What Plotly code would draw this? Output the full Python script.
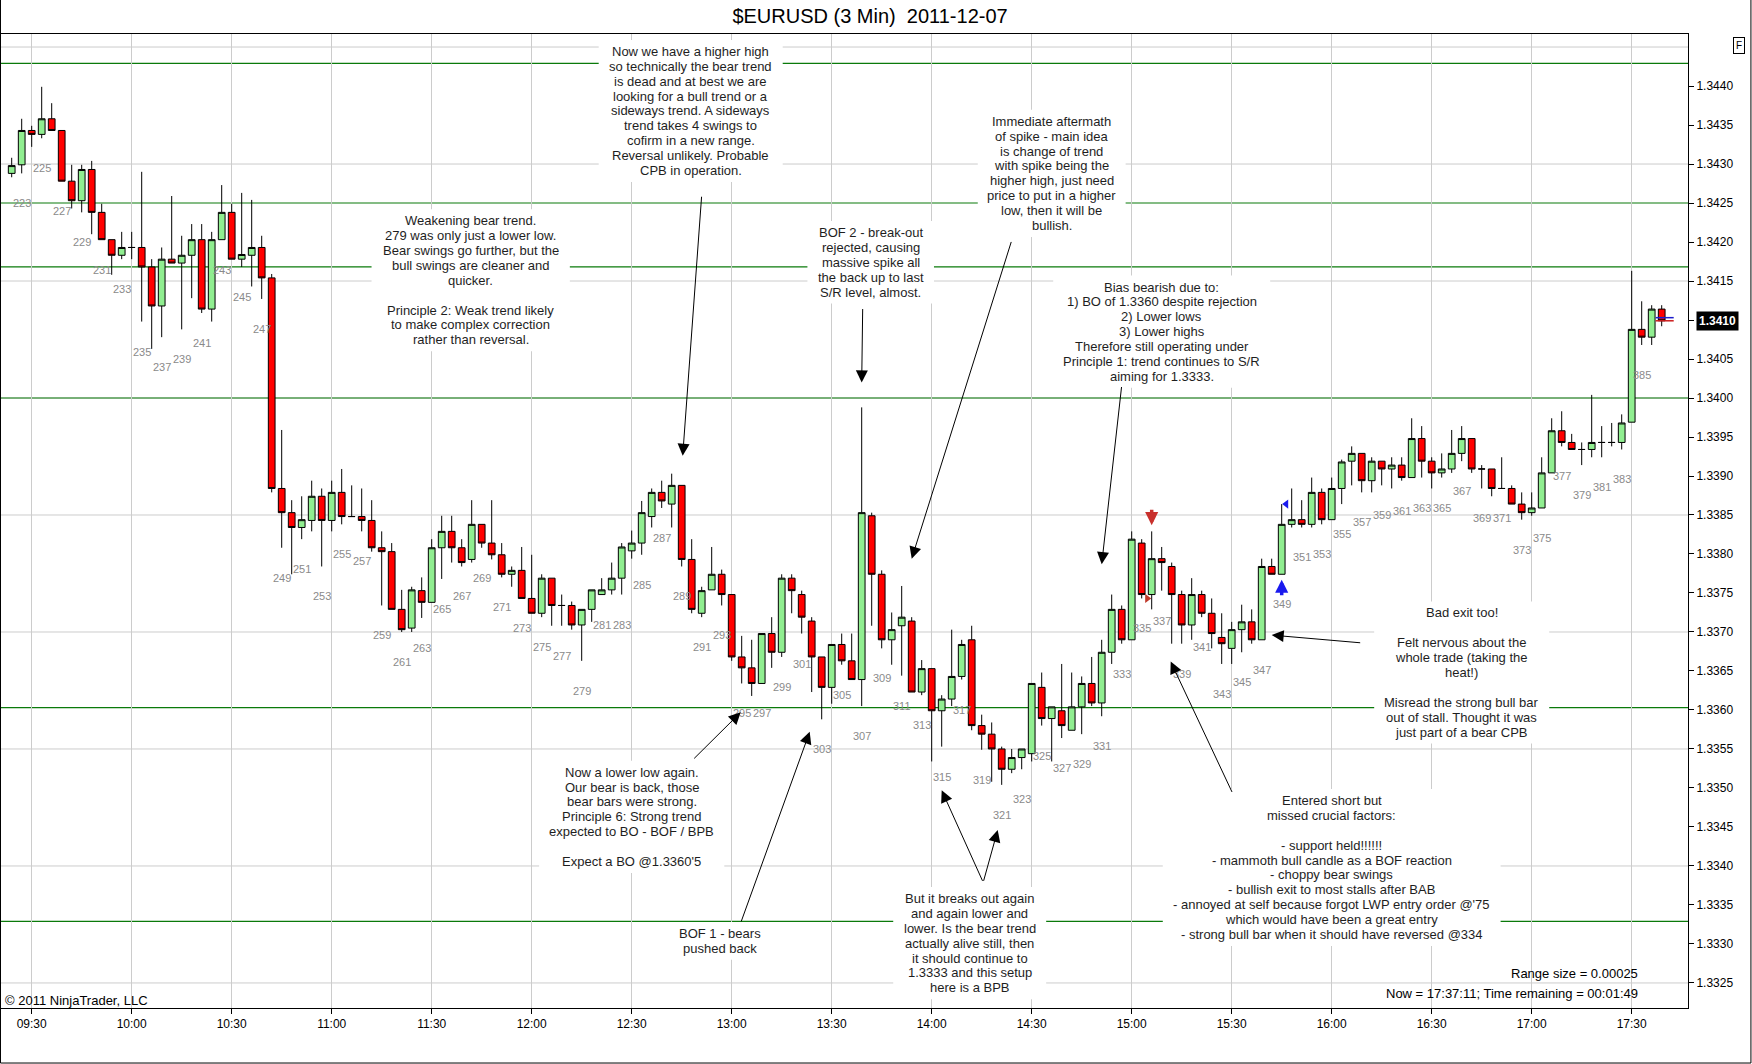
import plotly.graph_objects as go

# 3 minute EURUSD bars, 2011-12-07, bar numbers 222..387
first_bar = 222
opens = [1.34288, 1.34299, 1.34343, 1.34338, 1.34358, 1.34343, 1.34278, 1.34253, 1.34293, 1.34238,
         1.34203, 1.34183, 1.34193, 1.34193, 1.34168, 1.34118, 1.34178, 1.34173, 1.34183, 1.34203,
         1.34114, 1.34203, 1.34238, 1.34178, 1.34183, 1.34193, 1.34154, 1.33884, 1.33853, 1.33834,
         1.33843, 1.33874, 1.33843, 1.33879, 1.33848, 1.33848, 1.33843, 1.33808, 1.33803, 1.33729,
         1.33705, 1.33753, 1.33738, 1.33808, 1.33829, 1.33808, 1.33793, 1.33838, 1.33814, 1.33799,
         1.33774, 1.33779, 1.33743, 1.33724, 1.33769, 1.33734, 1.33734, 1.33709, 1.33729, 1.33748,
         1.33754, 1.33769, 1.33804, 1.33814, 1.33848, 1.33879, 1.33864, 1.33888, 1.33793, 1.33724,
         1.33754, 1.33774, 1.33748, 1.33668, 1.33654, 1.33634, 1.33698, 1.33674, 1.33769, 1.33748,
         1.33714, 1.33668, 1.33629, 1.33684, 1.33663, 1.33639, 1.33849, 1.33774, 1.33690, 1.33708,
         1.33714, 1.33623, 1.33653, 1.33599, 1.33614, 1.33643, 1.33690, 1.33580, 1.33569, 1.33550,
         1.33524, 1.33539, 1.33544, 1.33629, 1.33589, 1.33599, 1.33574, 1.33604, 1.33634, 1.33609,
         1.33674, 1.33729, 1.33690, 1.33814, 1.33748, 1.33794, 1.33784, 1.33748, 1.33709, 1.33748,
         1.33724, 1.33693, 1.33679, 1.33703, 1.33713, 1.33690, 1.33784, 1.33774, 1.33838, 1.33844,
         1.33838, 1.33879, 1.33844, 1.33884, 1.33919, 1.33929, 1.33894, 1.33919, 1.33909, 1.33914,
         1.33898, 1.33948, 1.33919, 1.33904, 1.33909, 1.33929, 1.33948, 1.33909, 1.33909, 1.33884,
         1.33884, 1.33864, 1.33853, 1.33859, 1.33904, 1.33958, 1.33943, 1.33934, 1.33934, 1.33943,
         1.33943, 1.33943, 1.33969, 1.34088, 1.34078, 1.34114]
highs = [1.34308, 1.34358, 1.34349, 1.34399, 1.34378, 1.34343, 1.34299, 1.34299, 1.34304, 1.34249,
         1.34203, 1.34213, 1.34213, 1.34290, 1.34178, 1.34193, 1.34259, 1.34208, 1.34223, 1.34223,
         1.34213, 1.34273, 1.34249, 1.34263, 1.34254, 1.34208, 1.34159, 1.33959, 1.33869, 1.33874,
         1.33894, 1.33884, 1.33894, 1.33909, 1.33888, 1.33884, 1.33869, 1.33829, 1.33814, 1.33754,
         1.33758, 1.33770, 1.33819, 1.33849, 1.33849, 1.33819, 1.33869, 1.33838, 1.33869, 1.33814,
         1.33784, 1.33809, 1.33799, 1.33774, 1.33769, 1.33748, 1.33739, 1.33729, 1.33754, 1.33769,
         1.33789, 1.33814, 1.33830, 1.33868, 1.33884, 1.33894, 1.33903, 1.33888, 1.33819, 1.33758,
         1.33809, 1.33780, 1.33748, 1.33695, 1.33690, 1.33698, 1.33719, 1.33774, 1.33774, 1.33753,
         1.33719, 1.33668, 1.33684, 1.33698, 1.33698, 1.33988, 1.33853, 1.33779, 1.33725, 1.33759,
         1.33719, 1.33664, 1.33653, 1.33619, 1.33703, 1.33690, 1.33708, 1.33594, 1.33584, 1.33553,
         1.33550, 1.33550, 1.33634, 1.33648, 1.33604, 1.33659, 1.33648, 1.33643, 1.33668, 1.33690,
         1.33748, 1.33734, 1.33829, 1.33819, 1.33829, 1.33809, 1.33789, 1.33753, 1.33769, 1.33753,
         1.33743, 1.33724, 1.33713, 1.33735, 1.33729, 1.33794, 1.33794, 1.33864, 1.33884, 1.33869,
         1.33898, 1.33884, 1.33898, 1.33921, 1.33938, 1.33929, 1.33924, 1.33919, 1.33924, 1.33924,
         1.33974, 1.33964, 1.33924, 1.33929, 1.33959, 1.33964, 1.33948, 1.33914, 1.33909, 1.33924,
         1.33888, 1.33879, 1.33879, 1.33924, 1.33974, 1.33983, 1.33954, 1.33943, 1.34004, 1.33964,
         1.33968, 1.33979, 1.34163, 1.34124, 1.34119, 1.34119]
lows = [1.34283, 1.34288, 1.34322, 1.34333, 1.34343, 1.34278, 1.34243, 1.34238, 1.34210, 1.34203,
        1.34158, 1.34178, 1.34178, 1.34098, 1.34063, 1.34078, 1.34173, 1.34088, 1.34128, 1.34109,
        1.34098, 1.34203, 1.34178, 1.34168, 1.34143, 1.34127, 1.33879, 1.33808, 1.33774, 1.33819,
        1.33829, 1.33784, 1.33829, 1.33838, 1.33848, 1.33829, 1.33803, 1.33734, 1.33729, 1.33700,
        1.33700, 1.33718, 1.33738, 1.33768, 1.33789, 1.33784, 1.33789, 1.33808, 1.33793, 1.33770,
        1.33758, 1.33743, 1.33724, 1.33719, 1.33708, 1.33708, 1.33703, 1.33663, 1.33713, 1.33748,
        1.33748, 1.33748, 1.33794, 1.33799, 1.33834, 1.33859, 1.33834, 1.33784, 1.33724, 1.33719,
        1.33754, 1.33734, 1.33663, 1.33634, 1.33618, 1.33634, 1.33654, 1.33668, 1.33724, 1.33698,
        1.33623, 1.33588, 1.33608, 1.33658, 1.33639, 1.33605, 1.33708, 1.33679, 1.33658, 1.33644,
        1.33623, 1.33619, 1.33534, 1.33553, 1.33605, 1.33639, 1.33574, 1.33549, 1.33508, 1.33504,
        1.33519, 1.33524, 1.33534, 1.33580, 1.33534, 1.33564, 1.33574, 1.33569, 1.33605, 1.33592,
        1.33659, 1.33685, 1.33690, 1.33743, 1.33729, 1.33753, 1.33685, 1.33685, 1.33690, 1.33719,
        1.33679, 1.33659, 1.33659, 1.33674, 1.33685, 1.33690, 1.33774, 1.33774, 1.33834, 1.33834,
        1.33834, 1.33838, 1.33844, 1.33864, 1.33888, 1.33879, 1.33879, 1.33888, 1.33884, 1.33894,
        1.33898, 1.33898, 1.33884, 1.33898, 1.33904, 1.33919, 1.33904, 1.33884, 1.33874, 1.33884,
        1.33864, 1.33844, 1.33849, 1.33859, 1.33904, 1.33938, 1.33934, 1.33914, 1.33924, 1.33924,
        1.33938, 1.33934, 1.33969, 1.34068, 1.34068, 1.34092]
closes = [1.34298, 1.34343, 1.34338, 1.34358, 1.34343, 1.34278, 1.34253, 1.34293, 1.34238, 1.34203,
          1.34183, 1.34193, 1.34193, 1.34168, 1.34118, 1.34178, 1.34173, 1.34183, 1.34203, 1.34114,
          1.34203, 1.34238, 1.34178, 1.34184, 1.34193, 1.34154, 1.33884, 1.33853, 1.33834, 1.33844,
          1.33874, 1.33843, 1.33879, 1.33848, 1.33848, 1.33843, 1.33808, 1.33803, 1.33729, 1.33703,
          1.33754, 1.33738, 1.33808, 1.33829, 1.33808, 1.33789, 1.33838, 1.33814, 1.33799, 1.33774,
          1.33779, 1.33743, 1.33724, 1.33769, 1.33734, 1.33734, 1.33709, 1.33729, 1.33754, 1.33754,
          1.33769, 1.33809, 1.33814, 1.33853, 1.33879, 1.33868, 1.33888, 1.33793, 1.33729, 1.33753,
          1.33774, 1.33748, 1.33668, 1.33654, 1.33634, 1.33698, 1.33674, 1.33769, 1.33753, 1.33719,
          1.33668, 1.33629, 1.33684, 1.33663, 1.33639, 1.33853, 1.33774, 1.33690, 1.33703, 1.33719,
          1.33623, 1.33653, 1.33599, 1.33614, 1.33643, 1.33684, 1.33580, 1.33569, 1.33550, 1.33524,
          1.33539, 1.33550, 1.33634, 1.33589, 1.33604, 1.33580, 1.33604, 1.33634, 1.33609, 1.33674,
          1.33729, 1.33690, 1.33819, 1.33748, 1.33794, 1.33789, 1.33748, 1.33709, 1.33748, 1.33724,
          1.33698, 1.33685, 1.33703, 1.33713, 1.33690, 1.33784, 1.33774, 1.33838, 1.33844, 1.33838,
          1.33879, 1.33844, 1.33884, 1.33918, 1.33929, 1.33894, 1.33919, 1.33909, 1.33914, 1.33898,
          1.33948, 1.33919, 1.33904, 1.33909, 1.33929, 1.33948, 1.33909, 1.33909, 1.33884, 1.33884,
          1.33864, 1.33853, 1.33859, 1.33904, 1.33958, 1.33943, 1.33934, 1.33934, 1.33943, 1.33943,
          1.33943, 1.33968, 1.34088, 1.34078, 1.34114, 1.34099]
bars = list(range(first_bar, first_bar + len(closes)))

time_bars = [224, 234, 244, 254, 264, 274, 284, 294, 304, 314, 324, 334, 344, 354, 364, 374, 384]
time_labels = ['09:30', '10:00', '10:30', '11:00', '11:30', '12:00', '12:30', '13:00', '13:30',
               '14:00', '14:30', '15:00', '15:30', '16:00', '16:30', '17:00', '17:30']
price_ticks = [1.3325, 1.3330, 1.3335, 1.3340, 1.3345, 1.3350, 1.3355, 1.3360, 1.3365, 1.3370,
               1.3375, 1.3380, 1.3385, 1.3390, 1.3395, 1.3400, 1.3405, 1.3410, 1.3415, 1.3420,
               1.3425, 1.3430, 1.3435, 1.3440]

# hand drawn S/R lines and the chart's own horizontal grid
sr_levels = [1.34429, 1.34250, 1.34168, 1.34000, 1.33603, 1.33329]
grid_levels = [1.3445, 1.3430, 1.3415, 1.3400, 1.3385, 1.3370, 1.3355, 1.3340, 1.3325]

# trade markers
entry_bar, entry_fill, entry_signal = 336, 1.33743, 1.33837
exit_bar, exit_fill, exit_signal = 349, 1.33864, 1.33767
bid_price, ask_price = 1.34099, 1.34103

FONT = 'Arial, Liberation Sans, sans-serif'
NOTE_SIZE = 13
LINE_PX = 14.9

notes = [
    ('Now we have a higher high<br>so technically the bear trend<br>is dead and at best we are<br>'
     'looking for a bull trend or a<br>sideways trend. A sideways<br>trend takes 4 swings to<br>'
     'cofirm in a new range.<br>Reversal unlikely. Probable<br>CPB in operation.', 289.9, 1.34368),
    ('Weakening bear trend.<br>279 was only just a lower low.<br>Bear swings go further, but the<br>'
     'bull swings are cleaner and<br>quicker.<br><br>Principle 2: Weak trend likely<br>'
     'to make complex correction<br>rather than reversal.', 267.9, 1.34151),
    ('BOF 2 - break-out<br>rejected, causing<br>massive spike all<br>the back up to last<br>'
     'S/R level, almost.', 307.9, 1.34174),
    ('Immediate aftermath<br>of spike - main idea<br>is change of trend<br>with spike being the<br>'
     'higher high, just need<br>price to put in a higher<br>low, then it will be<br>bullish.', 326.0, 1.34288),
    ('Bias bearish due to:<br>1) BO of 1.3360 despite rejection<br>2) Lower lows<br>3) Lower highs<br>'
     'Therefore still operating under<br>Principle 1: trend continues to S/R<br>aiming for 1.3333.',
     337.0, 1.34085),
    ('Bad exit too!<br><br>Felt nervous about the<br>whole trade (taking the<br>heat!)<br><br>'
     'Misread the strong bull bar<br>out of stall. Thought it was<br>just part of a bear CPB', 367.0, 1.33648),
    ('Entered short but<br>missed crucial factors:<br><br>- support held!!!!!!<br>'
     '- mammoth bull candle as a BOF reaction<br>- choppy bear swings<br>'
     '- bullish exit to most stalls after BAB<br>- annoyed at self because forgot LWP entry order @\'75<br>'
     'which would have been a great entry<br>- strong bull bar when it should have reversed @334',
     354.0, 1.33398),
    ('Now a lower low again.<br>Our bear is back, those<br>bear bars were strong.<br>'
     'Principle 6: Strong trend<br>expected to BO - BOF / BPB<br><br>Expect a BO @1.3360\'5', 284.0, 1.33463),
    ('BOF 1 - bears<br>pushed back', 292.8, 1.33304),
    ('But it breaks out again<br>and again lower and<br>lower. Is the bear trend<br>actually alive still, then<br>'
     'it should continue to<br>1.3333 and this setup<br>here is a BPB', 317.8, 1.33301),
]

# (tail bar, tail price, head bar, head price)
pointers = [
    (291.0, 1.34260, 289.1, 1.33926),
    (307.1, 1.34116, 307.0, 1.34020),
    (322.0, 1.34202, 312.0, 1.33794),
    (333.0, 1.34016, 331.0, 1.33787),
    (357.0, 1.33686, 348.0, 1.33696),
    (344.1, 1.33493, 337.9, 1.33662),
    (290.1, 1.33536, 294.9, 1.33597),
    (294.9, 1.33327, 301.8, 1.33572),
    (319.15, 1.33379, 315.0, 1.33497),
    (319.15, 1.33379, 320.6, 1.33446),
]

x_range = [220.93, 389.63]
y_range = [1.332179, 1.344667]


def text_px(s, size):
    """Rough Arial width of a line, only used to size the white note boxes."""
    w = 0.0
    for ch in s:
        if ch in "ijl.,:;!|'":
            w += 0.24
        elif ch in "frt()-/ I":
            w += 0.31
        elif ch in "mwMW@":
            w += 0.86
        elif ch.isupper():
            w += 0.68
        elif ch.isdigit():
            w += 0.556
        else:
            w += 0.54
    return w * size


fig = go.Figure()

fig.add_trace(go.Candlestick(
    x=bars, open=opens, high=highs, low=lows, close=closes,
    increasing=dict(fillcolor='#90EE90', line=dict(color='black', width=1)),
    decreasing=dict(fillcolor='#FF0000', line=dict(color='black', width=1)),
    whiskerwidth=0, hoverinfo='skip'))

# bid / ask ticks on the live bar
fig.add_trace(go.Scatter(x=[bars[-1] - 0.6, bars[-1] + 1.2], y=[ask_price, ask_price], mode='lines',
                         line=dict(color='#1c1ccc', width=1.5), hoverinfo='skip'))
fig.add_trace(go.Scatter(x=[bars[-1] - 0.6, bars[-1] + 1.2], y=[bid_price, bid_price], mode='lines',
                         line=dict(color='#cc1c1c', width=1.5), hoverinfo='skip'))

# execution triangles
fig.add_trace(go.Scatter(x=[entry_bar - 0.45], y=[entry_fill], mode='markers',
                         marker=dict(symbol='triangle-right', size=8, color='#c0392b'), hoverinfo='skip'))
fig.add_trace(go.Scatter(x=[exit_bar + 0.45], y=[exit_fill], mode='markers',
                         marker=dict(symbol='triangle-left', size=8, color='#1a1aee'), hoverinfo='skip'))

# current price marker on the axis
fig.add_trace(go.Scatter(x=[x_range[1] + 0.55], y=[closes[-1]], mode='markers', cliponaxis=False,
                         marker=dict(symbol='triangle-left', size=14, color='black'), hoverinfo='skip'))

shapes = []
for lvl in grid_levels:
    shapes.append(dict(type='line', xref='paper', x0=0, x1=1, yref='y', y0=lvl, y1=lvl,
                       line=dict(color='#cccccc', width=1), layer='below'))
for lvl in sr_levels:
    shapes.append(dict(type='line', xref='paper', x0=0, x1=1, yref='y', y0=lvl, y1=lvl,
                       line=dict(color='#0a7a0a', width=1.2), layer='below'))
# outer frame of the window (left, bottom, right)
shapes.append(dict(type='path', xref='paper', yref='paper',
                   path='M -0.0003,1.04 L -0.0003,-0.0565 L 1.0373,-0.0565 L 1.0373,1.04',
                   line=dict(color='black', width=1)))

annotations = []
# bar numbers under every second bar (the live bar is not numbered)
for b, lo in zip(bars[:-1], lows[:-1]):
    if b % 2 == 1:
        annotations.append(dict(x=b, y=lo, text=str(b), showarrow=False, yshift=-30,
                                font=dict(family=FONT, size=11, color='#8a8a8a')))

# notes: white box behind, one annotation per line to keep the tight line pitch
for tx, bx, py in notes:
    lines = tx.split('<br>')
    n = len(lines)
    box_w = max(text_px(s, NOTE_SIZE) for s in lines) + 18
    box_h = n * LINE_PX + 8
    shapes.append(dict(type='rect', xref='x', yref='y', xsizemode='pixel', ysizemode='pixel',
                       xanchor=bx, yanchor=py, x0=-box_w / 2, x1=box_w / 2, y0=-box_h / 2, y1=box_h / 2,
                       fillcolor='white', line=dict(width=0), layer='above'))
    for i, s in enumerate(lines):
        if not s:
            continue
        annotations.append(dict(x=bx, y=py, text=s, showarrow=False, yshift=((n - 1) / 2 - i) * LINE_PX,
                                font=dict(family=FONT, size=NOTE_SIZE, color='#1e1e1e')))

for tb, tp, hb, hp in pointers:
    annotations.append(dict(x=hb, y=hp, ax=tb, ay=tp, axref='x', ayref='y', text='', showarrow=True,
                            arrowhead=2, arrowsize=2.4, arrowwidth=1, arrowcolor='black', standoff=0))

# entry / exit signal arrows
annotations.append(dict(x=entry_bar, y=entry_signal, ax=0, ay=-17, text='', showarrow=True,
                        arrowhead=2, arrowsize=0.75, arrowwidth=3.5, arrowcolor='#c8302c', standoff=0))
annotations.append(dict(x=exit_bar, y=exit_signal, ax=0, ay=17, text='', showarrow=True,
                        arrowhead=2, arrowsize=0.75, arrowwidth=3.5, arrowcolor='#1a1aee', standoff=0))

annotations += [
    dict(xref='paper', yref='y', x=1.0045, y=closes[-1], xanchor='left', yanchor='middle',
         text='<b>%.4f</b>' % closes[-1], showarrow=False, bgcolor='black', borderpad=2,
         font=dict(family=FONT, size=12, color='white')),
    dict(xref='paper', yref='paper', x=1.0335, y=0.997, text='F', showarrow=False, bgcolor='white',
         bordercolor='black', borderwidth=1, borderpad=2, font=dict(family=FONT, size=10, color='black')),
    dict(xref='paper', yref='paper', x=0.0012, y=0.0077, xanchor='left', yanchor='middle',
         text='\u00a9 2011 NinjaTrader, LLC', showarrow=False, font=dict(family=FONT, size=13, color='black')),
    dict(xref='paper', yref='paper', x=0.9716, y=0.0359, xanchor='right', yanchor='middle',
         text='Range size = 0.00025', showarrow=False, font=dict(family=FONT, size=13, color='black')),
    dict(xref='paper', yref='paper', x=0.9716, y=0.0144, xanchor='right', yanchor='middle',
         text='Now = 17:37:11; Time remaining = 00:01:49', showarrow=False,
         font=dict(family=FONT, size=13, color='black')),
]

fig.update_layout(
    width=1752, height=1064,
    margin=dict(l=1, r=64, t=34, b=56),
    paper_bgcolor='white', plot_bgcolor='white',
    showlegend=False, hovermode=False,
    boxgap=0.18, boxgroupgap=0.18,
    font=dict(family=FONT, size=12, color='black'),
    title=dict(text='$EURUSD (3 Min)\u00a0 2011-12-07', x=0.4966, xref='container', xanchor='center',
               y=1 - 16 / 1064, yanchor='middle', font=dict(family=FONT, size=20, color='black')),
    shapes=shapes, annotations=annotations,
    xaxis=dict(range=x_range, tickmode='array', tickvals=time_bars, ticktext=time_labels,
               showgrid=True, gridcolor='#cccccc', gridwidth=1, zeroline=False,
               ticks='outside', ticklen=5, tickcolor='black', showline=True, linecolor='black',
               linewidth=1, mirror=True, rangeslider=dict(visible=False), tickfont=dict(size=12)),
    yaxis=dict(range=y_range, side='right', tickmode='array', tickvals=price_ticks,
               ticktext=['%.4f' % p for p in price_ticks],
               showgrid=False, zeroline=False, ticks='outside', ticklen=5, tickcolor='black',
               showline=True, linecolor='black', linewidth=1, mirror=True, tickfont=dict(size=12)),
)

fig.write_html("out.html", config={'displayModeBar': False},
               post_script="document.body.style.margin='0';")
